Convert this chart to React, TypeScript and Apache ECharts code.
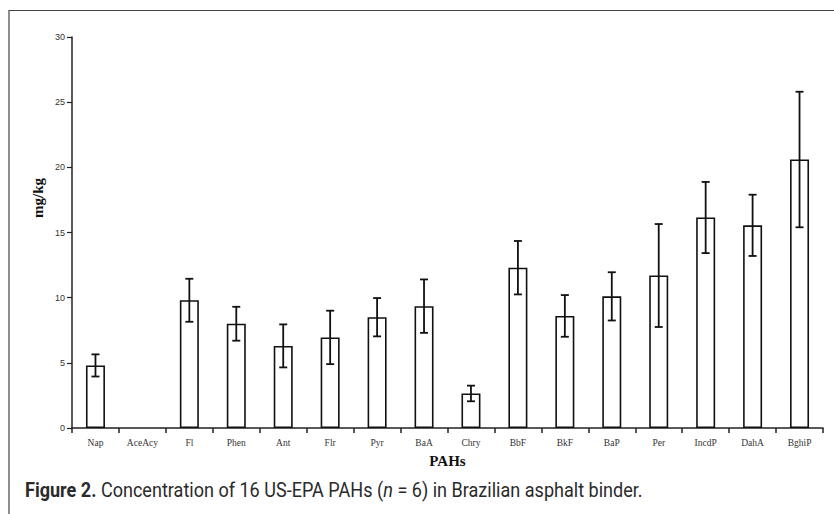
import React, { useEffect, useRef } from "react";
import * as echarts from "echarts";

const categories = ["Nap", "AceAcy", "Fl", "Phen", "Ant", "Flr", "Pyr", "BaA", "Chry", "BbF", "BkF", "BaP", "Per", "IncdP", "DahA", "BghiP"];
const means: (number | null)[] = [4.8, null, 9.8, 8.0, 6.3, 6.95, 8.5, 9.35, 2.65, 12.3, 8.6, 10.1, 11.7, 16.15, 15.55, 20.6];
const sds: (number | null)[] = [0.85, null, 1.65, 1.3, 1.65, 2.05, 1.47, 2.05, 0.6, 2.05, 1.6, 1.85, 3.95, 2.73, 2.35, 5.2];
const yTicks = { min: 0, max: 30, interval: 5 };

export default function App() {
  const ref = useRef<HTMLDivElement>(null);
  useEffect(() => {
    if (!ref.current) return;
    const chart = echarts.init(ref.current, null, { renderer: "svg" });
    const errData = categories
      .map((c, i) => (means[i] == null ? null : [i, (means[i] as number) - (sds[i] as number), (means[i] as number) + (sds[i] as number)]))
      .filter((d) => d !== null);
    const capFont = "Roboto";
    chart.setOption({
      animation: false,
      backgroundColor: "#fff",
      grid: { left: 72, right: 11, top: 37, bottom: 86, containLabel: false },
      xAxis: {
        type: "category",
        data: categories,
        boundaryGap: true,
        name: "PAHs",
        nameLocation: "middle",
        nameGap: 25,
        nameTextStyle: { fontFamily: "Liberation Serif", fontWeight: "bold", fontSize: 15, color: "#111" },
        axisLine: { lineStyle: { color: "#222", width: 1.5 } },
        axisTick: { show: true, length: 5, lineStyle: { color: "#222", width: 1.5 } },
        axisLabel: { fontFamily: "Liberation Serif", fontSize: 9.5, color: "#333", margin: 10, interval: 0 },
      },
      yAxis: {
        type: "value",
        min: yTicks.min,
        max: yTicks.max,
        interval: yTicks.interval,
        axisLine: { show: true, lineStyle: { color: "#222", width: 1.5 } },
        axisTick: { show: true, length: 5, lineStyle: { color: "#222", width: 1.2 } },
        axisLabel: { fontFamily: "Liberation Sans", fontSize: 9, color: "#333", margin: 7 },
        splitLine: { show: false },
      },
      series: [
        {
          type: "bar",
          data: means.map((v) => (v == null ? "-" : v)),
          barWidth: 19,
          itemStyle: { color: "#fff", borderColor: "#111", borderWidth: 1.6 },
        },
        {
          type: "custom",
          data: errData,
          z: 10,
          renderItem: (params: any, api: any) => {
            const x = api.value(0);
            const lo = api.coord([x, api.value(1)]);
            const hi = api.coord([x, api.value(2)]);
            const hw = 4;
            const st = { stroke: "#111", lineWidth: 1.8 };
            return {
              type: "group",
              children: [
                { type: "line", shape: { x1: lo[0], y1: lo[1], x2: hi[0], y2: hi[1] }, style: st },
                { type: "line", shape: { x1: hi[0] - hw, y1: hi[1], x2: hi[0] + hw, y2: hi[1] }, style: st },
                { type: "line", shape: { x1: lo[0] - hw, y1: lo[1], x2: lo[0] + hw, y2: lo[1] }, style: st },
              ],
            };
          },
        },
      ],
      graphic: [
        { type: "line", shape: { x1: 9, y1: 10.5, x2: 834, y2: 10.5 }, style: { stroke: "#444", lineWidth: 1.2 } },
        { type: "line", shape: { x1: 9, y1: 10, x2: 9, y2: 514 }, style: { stroke: "#444", lineWidth: 1.2 } },
        {
          type: "text",
          x: 38,
          y: 198,
          rotation: Math.PI / 2,
          style: {
            text: "mg/kg",
            fontFamily: "Liberation Serif",
            fontWeight: "bold",
            fontSize: 15,
            fill: "#111",
            align: "center",
            verticalAlign: "middle",
          },
        },
        {
          type: "text",
          x: 25,
          y: 490,
          scaleX: 0.86,
          style: {
            text: "{b|Figure 2.} Concentration of 16 US-EPA PAHs ({i|n} = 6) in Brazilian asphalt binder.",
            fontFamily: capFont,
            fontSize: 21,
            fill: "#2a2a2a",
            verticalAlign: "middle",
            rich: {
              b: { fontFamily: capFont, fontWeight: "bold", fontSize: 21, fill: "#2a2a2a" },
              i: { fontFamily: capFont, fontStyle: "italic", fontSize: 21, fill: "#2a2a2a" },
            },
          },
        },
      ],
    });
    return () => chart.dispose();
  }, []);
  return <div ref={ref} style={{ position: "fixed", left: 0, top: 0, width: 834, height: 514 }} />;
}
